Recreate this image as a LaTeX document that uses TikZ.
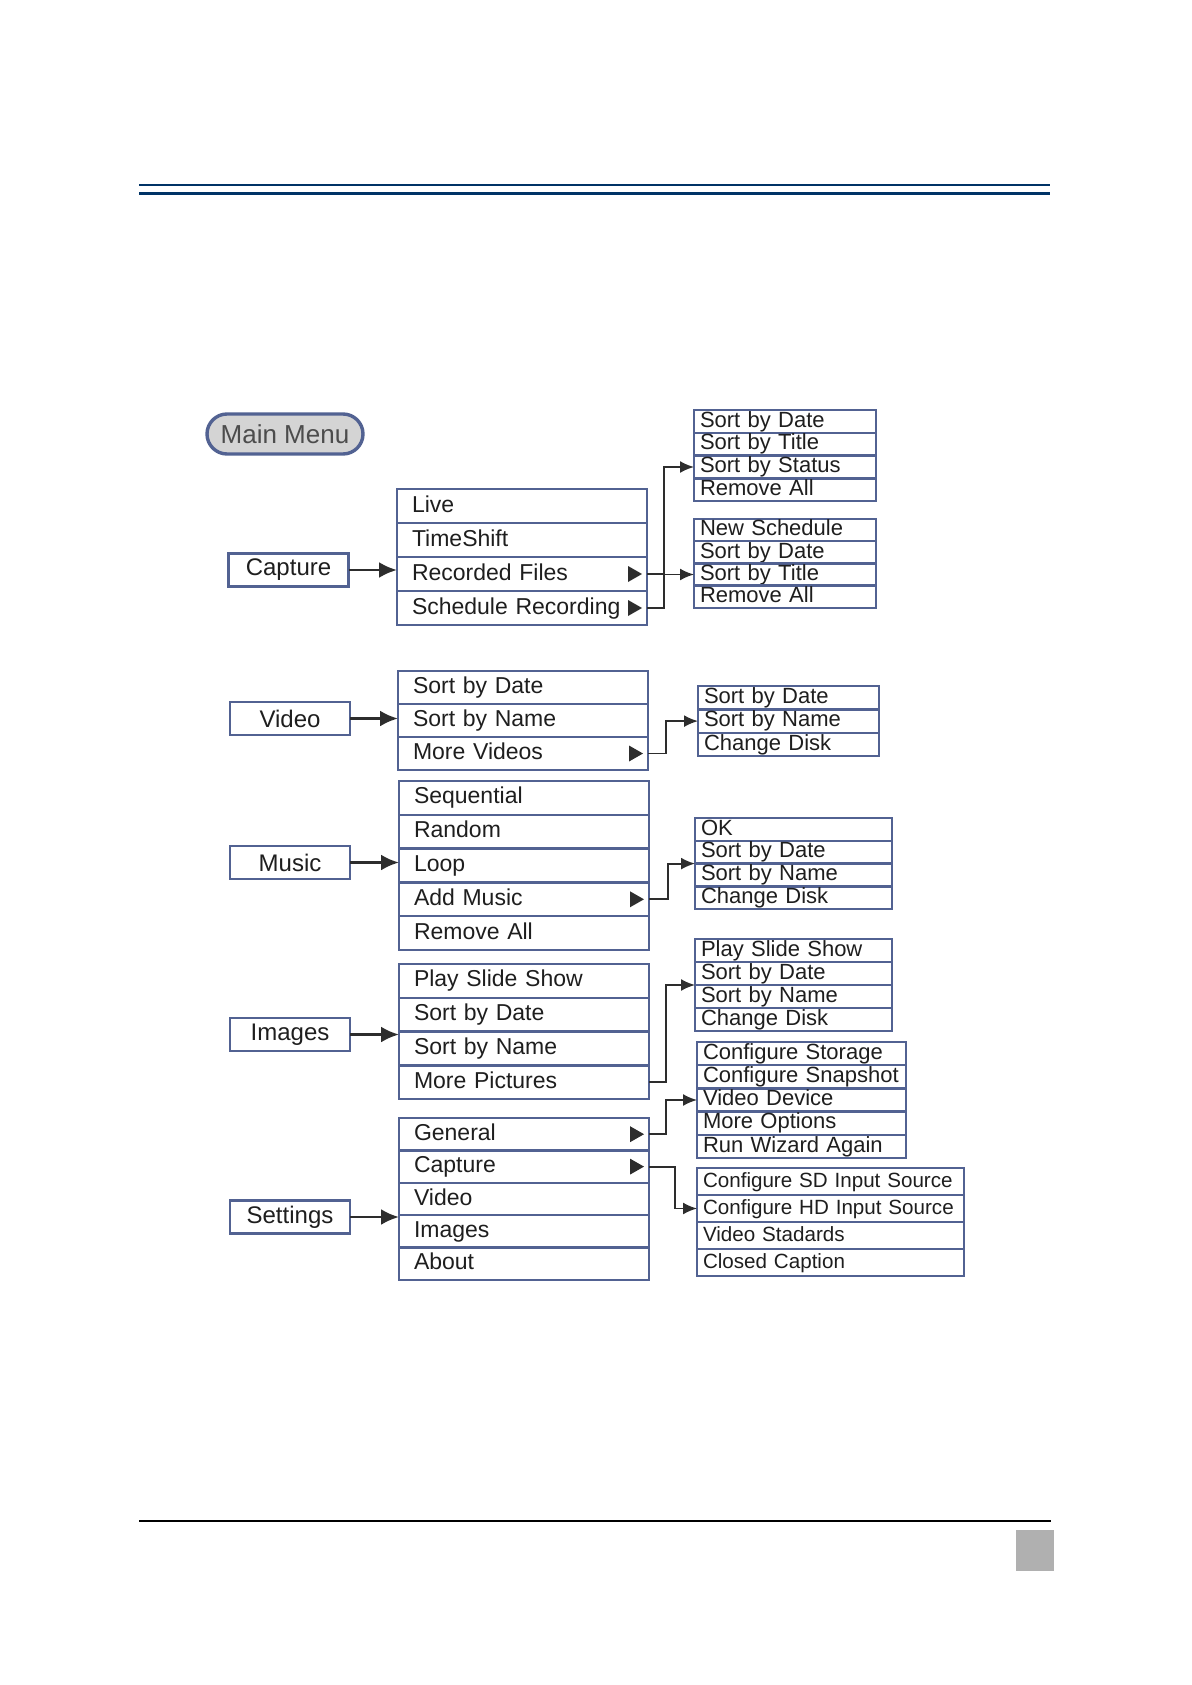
\documentclass[tikz,border=0pt]{standalone}
\usepackage{fontspec}
\setmainfont{Liberation Sans}
\usepackage{tikz}
\usetikzlibrary{arrows.meta, positioning, calc}

\definecolor{menublue}{RGB}{82,98,146}
\definecolor{linegray}{RGB}{45,45,45}
\definecolor{textgray}{RGB}{30,30,30}
\definecolor{rulenavy}{RGB}{0,51,102}

\tikzset{
  box/.style={draw=menublue, line width=1.25pt, outer sep=0pt, inner ysep=0pt, text=textgray},
  mainbtn/.style={draw=menublue, line width=1.7pt, fill=black!17, rounded corners=10pt,
    minimum width=78pt, minimum height=20pt, text=black!70, font=\fontsize{13}{15}\selectfont},
  catbox/.style={box, minimum width=60pt, minimum height=16.5pt, font=\fontsize{12}{14}\selectfont},
  mainrow/.style={box, text width=110pt, inner xsep=7.5pt, align=left, minimum height=#1,
    text height=8.6pt, text depth=2.6pt, font=\fontsize{11.5}{13}\selectfont},
  subrow/.style 2 args={box, line width=1.15pt, text width=#1, inner xsep=3pt, align=left,
    minimum height=#2, text height=8pt, text depth=2.3pt, font=\fontsize{11}{12}\selectfont},
  conn/.style={draw=linegray, line width=0.9pt, -{Latex[length=7pt,width=6pt]}},
  catarrow/.style={draw=linegray, line width=1.4pt, -{Latex[length=9pt,width=8pt]}},
}
\newcommand{\subtri}[1]{\fill[linegray] ([xshift=-2.5pt]#1.east) -- ++(-7pt,4pt) -- ++(0pt,-8pt) -- cycle;}

\begin{document}
\begin{tikzpicture}[x=0.5pt, y=-0.5pt, node distance=0pt]
    \useasboundingbox (0,0) rectangle (1192,1685);
    % page rules
    \draw[rulenavy, line width=1pt] (139,185) -- (1050,185);
    \draw[rulenavy, line width=1.5pt] (139,193.5) -- (1050,193.5);
    \draw[line width=0.6pt] (139,1521) -- (1051,1521);
    \fill[black!31] (1016,1530) rectangle (1054,1571);

    \node[mainbtn] (MM) at (285,434) {Main Menu};

    % Capture
    \node[catbox] (Cap) at (288.5,570) {Capture};
    \node[mainrow=17pt, anchor=north west] (cm1) at (397,489) {Live};
    \node[mainrow=17pt, below=of cm1] (cm2) {TimeShift};
    \node[mainrow=17pt, below=of cm2] (cm3) {Recorded Files};
    \node[mainrow=17pt, below=of cm3] (cm4) {Schedule Recording};
    \subtri{cm3}
    \subtri{cm4}

    \node[subrow={85pt}{11.4pt}, anchor=north west] (rf1) at (694,410) {Sort by Date};
    \node[subrow={85pt}{11.4pt}, below=of rf1] (rf2) {Sort by Title};
    \node[subrow={85pt}{11.4pt}, below=of rf2] (rf3) {Sort by Status};
    \node[subrow={85pt}{11.4pt}, below=of rf3] (rf4) {Remove All};

    \node[subrow={85pt}{11.1pt}, anchor=north west] (sr1) at (694,519) {New Schedule};
    \node[subrow={85pt}{11.1pt}, below=of sr1] (sr2) {Sort by Date};
    \node[subrow={85pt}{11.1pt}, below=of sr2] (sr3) {Sort by Title};
    \node[subrow={85pt}{11.1pt}, below=of sr3] (sr4) {Remove All};

    \draw[catarrow] (Cap) -- (Cap -| cm1.west);
    \draw[conn] (cm3.east) -- ++(8.5pt,0) |- (rf3.west);
    \draw[conn] (cm4.east) -- ++(8.5pt,0) |- (sr3.west);

    % Video
    \node[catbox] (Vid) at (290,718.5) {Video};
    \node[mainrow=16.5pt, anchor=north west] (vm1) at (398,671) {Sort by Date};
    \node[mainrow=16.5pt, below=of vm1] (vm2) {Sort by Name};
    \node[mainrow=16.5pt, below=of vm2] (vm3) {More Videos};
    \subtri{vm3}

    \node[subrow={84.5pt}{11.7pt}, anchor=north west] (vs1) at (698,686) {Sort by Date};
    \node[subrow={84.5pt}{11.7pt}, below=of vs1] (vs2) {Sort by Name};
    \node[subrow={84.5pt}{11.7pt}, below=of vs2] (vs3) {Change Disk};

    \draw[catarrow] (Vid) -- (Vid -| vm1.west);
    \draw[conn] (vm3.east) -- ++(9pt,0) |- (vs2.west);

    % Music
    \node[catbox] (Mus) at (290,862.5) {Music};
    \node[mainrow=16.9pt, anchor=north west] (mm1) at (399,781) {Sequential};
    \node[mainrow=16.9pt, below=of mm1] (mm2) {Random};
    \node[mainrow=16.9pt, below=of mm2] (mm3) {Loop};
    \node[mainrow=16.9pt, below=of mm3] (mm4) {Add Music};
    \node[mainrow=16.9pt, below=of mm4] (mm5) {Remove All};
    \subtri{mm4}

    \node[subrow={92.5pt}{11.4pt}, anchor=north west] (ms1) at (695,818) {OK};
    \node[subrow={92.5pt}{11.4pt}, below=of ms1] (ms2) {Sort by Date};
    \node[subrow={92.5pt}{11.4pt}, below=of ms2] (ms3) {Sort by Name};
    \node[subrow={92.5pt}{11.4pt}, below=of ms3] (ms4) {Change Disk};

    \draw[catarrow] (Mus) -- (Mus -| mm1.west);
    \draw[conn] (mm4.east) -- ++(9.5pt,0) |- (ms2.south west);

    % Images
    \node[catbox] (Img) at (290,1034.5) {Images};
    \node[mainrow=16.9pt, anchor=north west] (im1) at (399,964) {Play Slide Show};
    \node[mainrow=16.9pt, below=of im1] (im2) {Sort by Date};
    \node[mainrow=16.9pt, below=of im2] (im3) {Sort by Name};
    \node[mainrow=16.9pt, below=of im3] (im4) {More Pictures};

    \node[subrow={92.5pt}{11.5pt}, anchor=north west] (is1) at (695,939) {Play Slide Show};
    \node[subrow={92.5pt}{11.5pt}, below=of is1] (is2) {Sort by Date};
    \node[subrow={92.5pt}{11.5pt}, below=of is2] (is3) {Sort by Name};
    \node[subrow={92.5pt}{11.5pt}, below=of is3] (is4) {Change Disk};

    \draw[catarrow] (Img) -- (Img -| im1.west);
    \draw[conn] (im4.east) -- ++(8.5pt,0) |- (is2.south west);

    % Settings
    \node[catbox] (Set) at (290,1217) {Settings};
    \node[mainrow=16.2pt, anchor=north west] (st1) at (399,1118) {General};
    \node[mainrow=16.2pt, below=of st1] (st2) {Capture};
    \node[mainrow=16.2pt, below=of st2] (st3) {Video};
    \node[mainrow=16.2pt, below=of st3] (st4) {Images};
    \node[mainrow=16.2pt, below=of st4] (st5) {About};
    \subtri{st1}
    \subtri{st2}

    \node[subrow={98.5pt}{11.6pt}, anchor=north west] (gs1) at (697,1042) {Configure Storage};
    \node[subrow={98.5pt}{11.6pt}, below=of gs1] (gs2) {Configure Snapshot};
    \node[subrow={98.5pt}{11.6pt}, below=of gs2] (gs3) {Video Device};
    \node[subrow={98.5pt}{11.6pt}, below=of gs3] (gs4) {More Options};
    \node[subrow={98.5pt}{11.6pt}, below=of gs4] (gs5) {Run Wizard Again};

    \node[subrow={127.5pt}{13.5pt}, font=\fontsize{10.3}{12}\selectfont, anchor=north west] (cs1) at (697,1168) {Configure SD Input Source};
    \node[subrow={127.5pt}{13.5pt}, font=\fontsize{10.3}{12}\selectfont, below=of cs1] (cs2) {Configure HD Input Source};
    \node[subrow={127.5pt}{13.5pt}, font=\fontsize{10.3}{12}\selectfont, below=of cs2] (cs3) {Video Stadards};
    \node[subrow={127.5pt}{13.5pt}, font=\fontsize{10.3}{12}\selectfont, below=of cs3] (cs4) {Closed Caption};

    \draw[catarrow] (Set) -- (Set -| st1.west);
    \draw[conn] (st1.east) -- ++(8.5pt,0) |- (gs3.west);
    \draw[conn] (st2.east) -- ++(13pt,0) |- (cs2.west);
\end{tikzpicture}
\end{document}
